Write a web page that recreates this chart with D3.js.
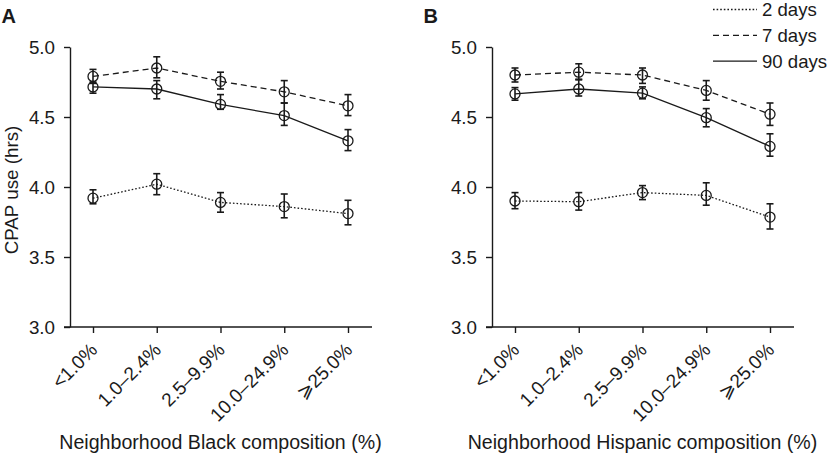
<!DOCTYPE html>
<html><head><meta charset="utf-8">
<script src="https://cdn.jsdelivr.net/npm/d3@7"></script>
<style>
body{margin:0;background:#fff;}
svg{display:block;font-family:"Liberation Sans",Arial,Helvetica,sans-serif;}
</style></head>
<body><svg id="c" width="827" height="457"></svg>
<script>
const categories = ["<1.0%", "1.0\u20132.4%", "2.5\u20139.9%", "10.0\u201324.9%", "\u2a7e25.0%"];
const yTicks = [3.0, 3.5, 4.0, 4.5, 5.0];
const seriesNames = ["2 days", "7 days", "90 days"];

// Panel A: Neighborhood Black composition
const blackDay2 = [3.92, 4.02, 3.89, 3.86, 3.81];
const blackDay2Lo = [3.88, 3.945, 3.82, 3.78, 3.73];
const blackDay2Hi = [3.98, 4.095, 3.96, 3.95, 3.905];
const blackDay7 = [4.79, 4.85, 4.755, 4.68, 4.58];
const blackDay7Lo = [4.74, 4.78, 4.70, 4.60, 4.51];
const blackDay7Hi = [4.84, 4.93, 4.82, 4.76, 4.66];
const blackDay90 = [4.715, 4.70, 4.59, 4.51, 4.33];
const blackDay90Lo = [4.67, 4.63, 4.555, 4.44, 4.26];
const blackDay90Hi = [4.75, 4.76, 4.66, 4.60, 4.41];

// Panel B: Neighborhood Hispanic composition
const hispDay2 = [3.90, 3.895, 3.96, 3.94, 3.785];
const hispDay2Lo = [3.845, 3.835, 3.91, 3.87, 3.70];
const hispDay2Hi = [3.96, 3.96, 4.01, 4.03, 3.88];
const hispDay7 = [4.80, 4.82, 4.80, 4.69, 4.52];
const hispDay7Lo = [4.75, 4.77, 4.74, 4.62, 4.44];
const hispDay7Hi = [4.85, 4.88, 4.85, 4.76, 4.60];
const hispDay90 = [4.665, 4.70, 4.67, 4.495, 4.29];
const hispDay90Lo = [4.62, 4.65, 4.63, 4.43, 4.22];
const hispDay90Hi = [4.71, 4.765, 4.715, 4.56, 4.38];

const dashes = ["1.6,2", "6,4", null];

const panels = [
  {label:"A", title:"Neighborhood Black composition (%)", dx:0,
   series:[[blackDay2,blackDay2Lo,blackDay2Hi],[blackDay7,blackDay7Lo,blackDay7Hi],[blackDay90,blackDay90Lo,blackDay90Hi]]},
  {label:"B", title:"Neighborhood Hispanic composition (%)", dx:422,
   series:[[hispDay2,hispDay2Lo,hispDay2Hi],[hispDay7,hispDay7Lo,hispDay7Hi],[hispDay90,hispDay90Lo,hispDay90Hi]]}
];

const svg = d3.select("#c");
const ink = "#1a1a1a";
const y = d3.scaleLinear().domain([3,5]).range([327,47]);

panels.forEach((p,pi)=>{
  const g = svg.append("g").attr("transform",`translate(${p.dx},0)`);
  const x = d3.scalePoint().domain(categories).range([93,348]);

  g.append("text").attr("x",1.5).attr("y",23).attr("font-size",20).attr("font-weight","bold").attr("fill",ink).text(p.label);

  // y axis
  const ya = g.append("g").attr("transform","translate(70,0)")
    .call(d3.axisLeft(y).tickValues(yTicks).tickFormat(d3.format(".1f")).tickSize(6).tickPadding(9).tickSizeOuter(0));
  ya.select(".domain").attr("stroke",ink).attr("stroke-width",1.4);
  ya.selectAll(".tick line").attr("stroke",ink).attr("stroke-width",1.4);
  ya.selectAll(".tick text").attr("font-size",18.8).attr("fill",ink).attr("font-family",null);

  // x axis
  const xa = g.append("g").attr("transform","translate(0,327)")
    .call(d3.axisBottom(x).tickSize(6).tickSizeOuter(0));
  xa.select(".domain").remove();
  xa.append("line").attr("x1",64).attr("x2",372).attr("stroke",ink).attr("stroke-width",1.4);
  xa.selectAll(".tick line").attr("stroke",ink).attr("stroke-width",1.4);
  xa.selectAll(".tick text").attr("font-size",19).attr("fill",ink).attr("font-family",null)
    .attr("text-anchor","end").attr("dy",null).attr("y",0)
    .attr("transform","translate(5,24) rotate(-45)");

  if(pi===0){
    g.append("text").attr("transform","translate(17.5,190) rotate(-90)").attr("text-anchor","middle")
      .attr("font-size",18.8).attr("fill",ink).text("CPAP use (hrs)");
  }
  g.append("text").attr("x",x(categories[2])).attr("y",449).attr("text-anchor","middle")
    .attr("font-size",19.6).attr("fill",ink).text(p.title);

  p.series.forEach((s,si)=>{
    const [v,lo,hi] = s;
    const line = d3.line().x((d,i)=>x(categories[i])).y(d=>y(d));
    g.append("path").datum(v).attr("d",line).attr("fill","none").attr("stroke",ink)
      .attr("stroke-width",1.3).attr("stroke-dasharray",dashes[si]);
    const eb = g.append("g");
    v.forEach((d,i)=>{
      const cx = x(categories[i]);
      eb.append("line").attr("x1",cx).attr("x2",cx).attr("y1",y(lo[i])).attr("y2",y(hi[i])).attr("stroke",ink).attr("stroke-width",1.6);
      [lo[i],hi[i]].forEach(e=>eb.append("line").attr("x1",cx-3.5).attr("x2",cx+3.5).attr("y1",y(e)).attr("y2",y(e)).attr("stroke",ink).attr("stroke-width",1.6));
      eb.append("circle").attr("cx",cx).attr("cy",y(d)).attr("r",5).attr("fill","none").attr("stroke",ink).attr("stroke-width",1.3);
    });
  });
});

// legend
const lg = svg.append("g");
seriesNames.forEach((n,i)=>{
  const yy = 9.5 + i*25.8;
  lg.append("line").attr("x1",713).attr("x2",757).attr("y1",yy).attr("y2",yy).attr("stroke",ink)
    .attr("stroke-width",1.3).attr("stroke-dasharray",dashes[i]);
  lg.append("text").attr("x",762).attr("y",yy+6.5).attr("font-size",18.6).attr("fill",ink).text(n);
});
</script></body></html>
